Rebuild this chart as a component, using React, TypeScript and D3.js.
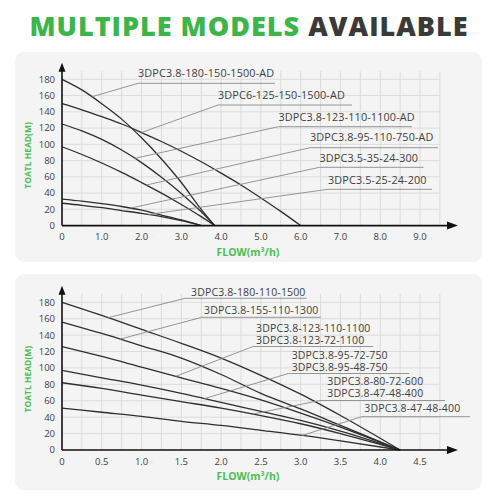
import React from "react";
import * as d3 from "d3";

// ---------- Data ----------
const topFlows1 = [0, 0.5, 1.0, 1.5, 2.0, 2.5, 3.0, 3.5, 3.84];
const topHead1 = [180, 167, 150, 131, 108, 82, 53, 20, 0]; // 3DPC3.8-180-150-1500-AD
const topFlows2 = [0, 0.5, 1.0, 1.5, 2.0, 2.5, 3.0, 3.5, 4.0, 4.5, 5.0, 5.5, 6.0];
const topHead2 = [150, 142.5, 134, 125, 114.5, 103.5, 91.5, 78.5, 64.5, 50, 34, 17.5, 0]; // 3DPC6-125-150-1500-AD
const topHead3 = [125, 116.5, 106, 93, 77.5, 59.5, 39.5, 17, 0]; // 3DPC3.8-123-110-1100-AD
const topHead4 = [97, 87.5, 77, 65.5, 53, 40, 26, 11, 0]; // 3DPC3.8-95-110-750-AD
const topFlows5 = [0, 0.5, 1.0, 1.5, 2.0, 2.5, 3.0, 3.5];
const topHead5 = [32.5, 30, 27, 23.5, 19, 13, 7, 0]; // 3DPC3.5-35-24-300
const topHead6 = [27.5, 25, 22, 18.5, 15, 11, 6, 0]; // 3DPC3.5-25-24-200

const topLabels = [
  "3DPC3.8-180-150-1500-AD",
  "3DPC6-125-150-1500-AD",
  "3DPC3.8-123-110-1100-AD",
  "3DPC3.8-95-110-750-AD",
  "3DPC3.5-35-24-300",
  "3DPC3.5-25-24-200",
];
const topLabelFlows = [0.75, 2.0, 1.83, 2.12, 1.72, 2.17];

const botFlows = [0, 0.5, 1.0, 1.5, 2.0, 2.5, 3.0, 3.5, 4.25];
const botHeadA = [180, 164, 147, 130, 112, 91, 68, 42, 0];
const botHeadB = [156, 142, 127, 112, 92, 69, 50, 30, 0];
const botHeadC = [126, 114, 101, 88, 75, 61, 45, 28, 0];
const botHeadD = [97, 88, 79, 69, 58, 47, 36, 23, 0];
const botHeadE = [82, 75, 67, 59, 51, 42, 32, 20, 0];
const botHeadF = [51, 46, 41, 35, 30, 24, 18, 11, 0];

const botLabels = [
  "3DPC3.8-180-110-1500",
  "3DPC3.8-155-110-1300",
  "3DPC3.8-123-110-1100",
  "3DPC3.8-123-72-1100",
  "3DPC3.8-95-72-750",
  "3DPC3.8-95-48-750",
  "3DPC3.8-80-72-600",
  "3DPC3.8-47-48-400",
  "3DPC3.8-47-48-400",
];
const botLabelFlows = [0.58, 0.73, 1.43, 1.79, 2.4, 3.02];

const yTicks = [0, 20, 40, 60, 80, 100, 120, 140, 160, 180];
const topXTicks = [0, 1, 2, 3, 4, 5, 6, 7, 8, 9];
const topXTickLabels = ["0", "1.0", "2.0", "3.0", "4.0", "5.0", "6.0", "7.0", "8.0", "9.0"];
const botXTicks = [0, 0.5, 1, 1.5, 2, 2.5, 3, 3.5, 4, 4.5];
const botXTickLabels = ["0", "0.5", "1.0", "1.5", "2.0", "2.5", "3.0", "3.5", "4.0", "4.5"];

// ---------- Style ----------
const GREEN = "#3db54a";
const AXIS_GREEN = "#4cbf4e";
const DARK = "#3a3a3a";
const TEXT = "#404040";
const GRID = "#dcdcdc";
const CURVE = "#2e2e2e";
const LEADER = "#8a8a8a";
const FONT = "'Open Sans', 'Noto Sans', sans-serif";

type Series = { flows: number[]; heads: number[] };
type LabelLayout = {
  texts: string[];
  tx: number;
  baselines: number[];
  uy: number;
  ux0: number;
  ux1: number;
  series: number;
  flow: number;
};

function interp(s: Series, q: number) {
  const f = s.flows;
  for (let i = 0; i < f.length - 1; i++) {
    if (q >= f[i] && q <= f[i + 1]) {
      const t = (q - f[i]) / (f[i + 1] - f[i]);
      return s.heads[i] + t * (s.heads[i + 1] - s.heads[i]);
    }
  }
  return 0;
}

function Chart(props: {
  panelY: number;
  panelH: number;
  y0: number;
  y180: number;
  xMax: number;
  gridStep: number;
  xTicks: number[];
  xTickLabels: string[];
  series: Series[];
  labels: LabelLayout[];
  labelSize: number;
}) {
  const { panelY, panelH, y0, y180, xMax, gridStep, xTicks, xTickLabels, series, labels, labelSize } = props;
  const x = d3.scaleLinear().domain([0, xMax]).range([62, 420]);
  const y = d3.scaleLinear().domain([0, 180]).range([y0, y180]);
  const line = d3
    .line<[number, number]>()
    .x((d) => x(d[0]))
    .y((d) => y(d[1]))
    .curve(d3.curveMonotoneX);
  const gridX = d3.range(gridStep, xMax + gridStep * 1.01 + 0.0001, gridStep);
  const gridRight = x(xMax + gridStep);
  const gridTop = y(190);
  const arrowTipX = 458;
  const arrowTipY = y(180) - 16.5;
  return (
    <g>
      <rect x={15} y={panelY} width={467} height={panelH} rx={9} fill="#f4f4f4" />
      {gridX.map((g, i) => (
        <line key={"gx" + i} x1={x(g)} x2={x(g)} y1={y0} y2={gridTop} stroke={GRID} strokeWidth={1} />
      ))}
      {yTicks.slice(1).map((t) => (
        <line key={"gy" + t} x1={x(0)} x2={gridRight} y1={y(t)} y2={y(t)} stroke={GRID} strokeWidth={1} />
      ))}
      {series.map((s, i) => (
        <path
          key={"s" + i}
          d={line(s.flows.map((f, j) => [f, s.heads[j]] as [number, number])) || ""}
          fill="none"
          stroke={CURVE}
          strokeWidth={1.3}
        />
      ))}
      {labels.map((l, i) => {
        const px = x(l.flow);
        const py = y(interp(series[l.series], l.flow));
        return (
          <g key={"l" + i}>
            <polyline
              points={`${px},${py} ${l.ux0},${l.uy} ${l.ux1},${l.uy}`}
              fill="none"
              stroke={LEADER}
              strokeWidth={0.9}
            />
            {l.texts.map((t, j) => (
              <text key={j} x={l.tx} y={l.baselines[j]} fontSize={labelSize} fill={TEXT} fontFamily={FONT} letterSpacing={0.15}>
                {t}
              </text>
            ))}
          </g>
        );
      })}
      {/* axes */}
      <line x1={x(0)} x2={arrowTipX - 8} y1={y0} y2={y0} stroke="#111" strokeWidth={1.6} />
      <path d={`M${arrowTipX},${y0} L${arrowTipX - 11},${y0 - 4} L${arrowTipX - 11},${y0 + 4} Z`} fill="#111" />
      <line x1={x(0)} x2={x(0)} y1={y0} y2={arrowTipY + 6} stroke="#111" strokeWidth={1.6} />
      <path d={`M${x(0)},${arrowTipY} L${x(0) - 3.5},${arrowTipY + 9} L${x(0) + 3.5},${arrowTipY + 9} Z`} fill="#111" />
      {yTicks.map((t) => (
        <text key={"yt" + t} x={55} y={y(t) + 3.4} textAnchor="end" fontSize={9.5} fill={TEXT} fontFamily={FONT}>
          {t}
        </text>
      ))}
      {xTicks.map((t, i) => (
        <text key={"xt" + i} x={x(t)} y={y0 + 14.5} textAnchor="middle" fontSize={9.5} fill={TEXT} fontFamily={FONT}>
          {xTickLabels[i]}
        </text>
      ))}
      <text
        transform={`translate(31,${(y0 + y180) / 2 + 3}) rotate(-90)`}
        textAnchor="middle"
        fontSize={8.5}
        fontWeight={700}
        fill={AXIS_GREEN}
        fontFamily={FONT}
      >
        TOATL HEAD(M)
      </text>
      <text x={248} y={y0 + 30} textAnchor="middle" fontSize={10.5} fontWeight={700} fill={AXIS_GREEN} fontFamily={FONT}>
        FLOW(m³/h)
      </text>
    </g>
  );
}

export default function App() {
  const topSeries: Series[] = [
    { flows: topFlows1, heads: topHead1 },
    { flows: topFlows2, heads: topHead2 },
    { flows: topFlows1, heads: topHead3 },
    { flows: topFlows1, heads: topHead4 },
    { flows: topFlows5, heads: topHead5 },
    { flows: topFlows5, heads: topHead6 },
  ];
  const botSeries: Series[] = [botHeadA, botHeadB, botHeadC, botHeadD, botHeadE, botHeadF].map((h) => ({
    flows: botFlows,
    heads: h,
  }));

  const topLayout: LabelLayout[] = [
    { texts: [topLabels[0]], tx: 138, baselines: [77.2], uy: 83.3, ux0: 138, ux1: 275, series: 0, flow: topLabelFlows[0] },
    { texts: [topLabels[1]], tx: 218, baselines: [99], uy: 105, ux0: 218, ux1: 352, series: 1, flow: topLabelFlows[1] },
    { texts: [topLabels[2]], tx: 278.5, baselines: [120.6], uy: 126.7, ux0: 278.5, ux1: 412, series: 2, flow: topLabelFlows[2] },
    { texts: [topLabels[3]], tx: 310, baselines: [141.2], uy: 147.7, ux0: 310, ux1: 438, series: 3, flow: topLabelFlows[3] },
    { texts: [topLabels[4]], tx: 319.5, baselines: [162.2], uy: 167.3, ux0: 319.5, ux1: 423.5, series: 4, flow: topLabelFlows[4] },
    { texts: [topLabels[5]], tx: 328, baselines: [183.9], uy: 189.3, ux0: 328, ux1: 432, series: 5, flow: topLabelFlows[5] },
  ];
  const botLayout: LabelLayout[] = [
    { texts: [botLabels[0]], tx: 191, baselines: [295.6], uy: 298.3, ux0: 185, ux1: 306.7, series: 0, flow: botLabelFlows[0] },
    { texts: [botLabels[1]], tx: 204, baselines: [313.9], uy: 317.3, ux0: 201.7, ux1: 320.7, series: 1, flow: botLabelFlows[1] },
    { texts: [botLabels[2], botLabels[3]], tx: 256, baselines: [332.2, 343.9], uy: 346.5, ux0: 253, ux1: 373.3, series: 2, flow: botLabelFlows[2] },
    { texts: [botLabels[4], botLabels[5]], tx: 291.7, baselines: [358.9, 371.2], uy: 373.5, ux0: 288.3, ux1: 409.3, series: 3, flow: botLabelFlows[3] },
    { texts: [botLabels[6], botLabels[7]], tx: 327.3, baselines: [384.9, 397.2], uy: 400.5, ux0: 320, ux1: 445, series: 4, flow: botLabelFlows[4] },
    { texts: [botLabels[8]], tx: 364.3, baselines: [412.2], uy: 416.7, ux0: 361.7, ux1: 470, series: 5, flow: botLabelFlows[5] },
  ];

  return (
    <svg
      width={500}
      height={500}
      viewBox="0 0 500 500"
      style={{ position: "absolute", left: 0, top: 0, display: "block", background: "#fff" }}
    >
      <rect x={0} y={0} width={500} height={500} fill="#fff" />
      <text x={249} y={36} textAnchor="middle" fontSize={27} fontWeight={800} fontFamily={FONT} letterSpacing={1}>
        <tspan fill={GREEN}>MULTIPLE MODELS </tspan>
        <tspan fill={DARK}>AVAILABLE</tspan>
      </text>
      <Chart
        panelY={52}
        panelH={210}
        y0={225.6}
        y180={79.3}
        xMax={9}
        gridStep={0.5}
        xTicks={topXTicks}
        xTickLabels={topXTickLabels}
        series={topSeries}
        labels={topLayout}
        labelSize={10.8}
      />
      <Chart
        panelY={274}
        panelH={216}
        y0={450}
        y180={302.3}
        xMax={4.5}
        gridStep={0.25}
        xTicks={botXTicks}
        xTickLabels={botXTickLabels}
        series={botSeries}
        labels={botLayout}
        labelSize={10.5}
      />
    </svg>
  );
}
